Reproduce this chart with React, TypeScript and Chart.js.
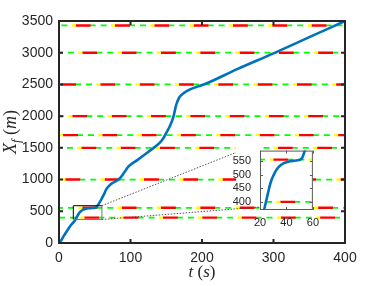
import React, { useEffect, useRef } from 'react';
import { Chart, registerables } from 'chart.js';

Chart.register(...registerables);

// ---------- data ----------
const TIME_S = [0, 3, 6, 10, 14, 18, 22, 25, 28, 31, 34, 38, 42, 46, 50, 52, 54, 57, 60, 63, 66, 70, 74, 78, 82, 86, 90, 94, 97, 100, 110, 120, 130, 140, 145, 150, 155, 160, 164, 168, 172, 178, 185, 195, 205, 250, 300, 350, 400];
const POSITION_M = [0, 40, 100, 170, 240, 300, 350, 410, 470, 505, 527, 542, 548, 551, 554, 562, 590, 645, 705, 770, 845, 900, 940, 965, 992, 1030, 1090, 1160, 1205, 1235, 1310, 1395, 1480, 1570, 1635, 1735, 1840, 1990, 2180, 2290, 2340, 2390, 2430, 2470, 2510, 2745, 2990, 3245, 3500];
const REF_LEVELS_M = [3430, 3000, 2500, 2000, 1700, 1500, 1000, 555, 400];
const X_TICKS = [0, 100, 200, 300, 400];
const Y_TICKS = [0, 500, 1000, 1500, 2000, 2500, 3000, 3500];
const INSET_X_TICKS = [20, 40, 60];
const INSET_Y_TICKS = [400, 450, 500, 550];
const ZOOM_T_RANGE = [20, 60];
const ZOOM_X_RANGE = [370, 588];

// ---------- styles ----------
const MAIN_DASH_PHASE = [26.6, 20, 2, 30, 0, 21, 37, 20, 18];
const INSET_DASH_PHASE = [0, 0, 0, 0, 0, 0, 0, 30, 23];
const DASH_PERIOD = 39.3;
const AXIS_COLOR = '#262626';
const SANS = '"Liberation Sans", Arial, sans-serif';
const SERIF = '"Liberation Serif", "Times New Roman", serif';
const INSET_CANVAS = { left: 225, top: 135, width: 100, height: 100 };
const INSET_AREA = { left: 260, top: 143, right: 317, bottom: 210 };

const mod = (v: number) => ((v % DASH_PERIOD) + DASH_PERIOD) % DASH_PERIOD;

function curveDataset() {
  return {
    data: TIME_S.map((t, i) => ({ x: t, y: POSITION_M[i] })),
    borderColor: '#0072BD',
    borderWidth: 2.6,
    pointRadius: 0,
    cubicInterpolationMode: 'monotone' as const,
    fill: false,
  };
}

function levelDatasets(phases: number[], xmin: number, xmax: number) {
  const out: any[] = [];
  REF_LEVELS_M.forEach((lv, i) => {
    const ph = phases[i];
    const data = [{ x: xmin, y: lv }, { x: xmax, y: lv }];
    out.push({ data, borderColor: '#ffff00', borderWidth: 2.4, borderDash: [4, DASH_PERIOD - 4], borderDashOffset: mod(ph), pointRadius: 0, borderCapStyle: 'butt' });
    out.push({ data, borderColor: '#ff0000', borderWidth: 2.4, borderDash: [15, DASH_PERIOD - 15], borderDashOffset: mod(ph - 4), pointRadius: 0, borderCapStyle: 'butt' });
    out.push({ data, borderColor: '#00ff00', borderWidth: 1.7, borderDash: [5, 5, 6, DASH_PERIOD - 16], borderDashOffset: mod(ph - 19), pointRadius: 0, borderCapStyle: 'butt' });
  });
  return out;
}

type Piece = { t: string; f: string; dy?: number };

function drawPieces(ctx: CanvasRenderingContext2D, pieces: Piece[], cx: number, baseline: number) {
  let total = 0;
  pieces.forEach((p) => { ctx.font = p.f; total += ctx.measureText(p.t).width; });
  let x = cx - total / 2;
  ctx.textBaseline = 'alphabetic';
  ctx.textAlign = 'left';
  pieces.forEach((p) => {
    ctx.font = p.f;
    ctx.fillText(p.t, x, baseline + (p.dy || 0));
    x += ctx.measureText(p.t).width;
  });
}

const mainDecor = {
  id: 'mainDecor',
  afterDatasetsDraw(chart: any) {
    const { ctx, chartArea: a, scales } = chart;
    const xs = scales.x, ys = scales.y;
    ctx.save();
    // zoom rectangle
    const rx1 = xs.getPixelForValue(ZOOM_T_RANGE[0]);
    const rx2 = xs.getPixelForValue(ZOOM_T_RANGE[1]);
    const ry1 = ys.getPixelForValue(ZOOM_X_RANGE[1]);
    const ry2 = ys.getPixelForValue(ZOOM_X_RANGE[0]);
    ctx.lineWidth = 1;
    ctx.strokeStyle = '#000';
    ctx.beginPath();
    ctx.moveTo(rx1, ry2); ctx.lineTo(rx1, ry1); ctx.lineTo(rx2, ry1);
    ctx.stroke();
    ctx.strokeStyle = '#777';
    ctx.beginPath();
    ctx.moveTo(rx2, ry1); ctx.lineTo(rx2, ry2); ctx.lineTo(rx1, ry2);
    ctx.stroke();
    // connectors
    ctx.setLineDash([1.5, 1.5]);
    ctx.strokeStyle = '#444';
    ctx.lineWidth = 0.9;
    ctx.beginPath();
    ctx.moveTo(rx2, ry1); ctx.lineTo(INSET_AREA.left, INSET_AREA.top);
    ctx.moveTo(rx2, ry2); ctx.lineTo(INSET_AREA.left, INSET_AREA.bottom - 3);
    ctx.stroke();
    ctx.setLineDash([]);
    // frame
    ctx.strokeStyle = AXIS_COLOR;
    ctx.lineWidth = 2;
    ctx.strokeRect(a.left, a.top, a.right - a.left, a.bottom - a.top);
    // inward ticks
    ctx.lineWidth = 2;
    ctx.beginPath();
    X_TICKS.forEach((v) => {
      const px = xs.getPixelForValue(v);
      ctx.moveTo(px, a.bottom); ctx.lineTo(px, a.bottom - 4);
      ctx.moveTo(px, a.top); ctx.lineTo(px, a.top + 4);
    });
    Y_TICKS.forEach((v) => {
      const py = ys.getPixelForValue(v);
      ctx.moveTo(a.left, py); ctx.lineTo(a.left + 4, py);
      ctx.moveTo(a.right, py); ctx.lineTo(a.right - 4, py);
    });
    ctx.stroke();
    // titles
    ctx.fillStyle = AXIS_COLOR;
    const it = `italic 17px ${SERIF}`;
    const up = `17px ${SERIF}`;
    drawPieces(ctx, [
      { t: 't', f: it }, { t: ' (', f: up }, { t: 's', f: it }, { t: ')', f: up },
    ], (a.left + a.right) / 2, 277);
    ctx.translate(16, (a.top + a.bottom) / 2);
    ctx.rotate(-Math.PI / 2);
    drawPieces(ctx, [
      { t: 'X', f: `italic 18px ${SERIF}` },
      { t: 'f', f: `italic 13px ${SERIF}`, dy: 4 },
      { t: ' (', f: `18px ${SERIF}` },
      { t: 'm', f: `italic 18px ${SERIF}` },
      { t: ')', f: `18px ${SERIF}` },
    ], 0, 0);
    ctx.restore();
  },
};

const insetDecor = {
  id: 'insetDecor',
  beforeDraw(chart: any) {
    const { ctx, chartArea: a } = chart;
    ctx.save();
    ctx.fillStyle = '#fff';
    ctx.fillRect(11, 1, a.left - 11, 68);
    ctx.fillRect(a.left, a.top, a.right - a.left, a.bottom - a.top);
    ctx.restore();
  },
  afterDatasetsDraw(chart: any) {
    const { ctx, chartArea: a, scales } = chart;
    const xs = scales.x, ys = scales.y;
    ctx.save();
    ctx.strokeStyle = '#5a5a5a';
    ctx.lineWidth = 1;
    ctx.strokeRect(a.left + 0.5, a.top + 0.5, a.right - a.left - 1, a.bottom - a.top - 1);
    ctx.beginPath();
    INSET_X_TICKS.forEach((v) => {
      const px = Math.round(xs.getPixelForValue(v)) + 0.5;
      ctx.moveTo(px, a.bottom); ctx.lineTo(px, a.bottom - 3);
      ctx.moveTo(px, a.top); ctx.lineTo(px, a.top + 3);
    });
    INSET_Y_TICKS.forEach((v) => {
      const py = Math.round(ys.getPixelForValue(v)) + 0.5;
      ctx.moveTo(a.left, py); ctx.lineTo(a.left + 3, py);
      ctx.moveTo(a.right, py); ctx.lineTo(a.right - 3, py);
    });
    ctx.stroke();
    ctx.restore();
  },
};

function axisTicks(values: number[], size: number, padding: number) {
  return {
    afterBuildTicks: (s: any) => { s.ticks = values.map((v) => ({ value: v })); },
    grid: { display: false, drawTicks: false },
    border: { display: false },
    ticks: {
      padding,
      color: AXIS_COLOR,
      font: { size, family: SANS },
      maxRotation: 0,
      autoSkip: false,
      callback: (v: any) => String(v),
    },
  };
}

function mainConfig(): any {
  return {
    type: 'line',
    data: { datasets: [curveDataset(), ...levelDatasets(MAIN_DASH_PHASE, 0, 400)] },
    options: {
      animation: false,
      responsive: false,
      devicePixelRatio: 1,
      events: [],
      layout: { padding: { left: 0, top: 21, right: 37, bottom: 0 } },
      plugins: { legend: { display: false }, tooltip: { enabled: false } },
      scales: {
        x: { type: 'linear', min: 0, max: 400, ...axisTicks(X_TICKS, 14, 7), afterFit: (s: any) => { s.height = 43; } },
        y: { type: 'linear', min: 0, max: 3500, ...axisTicks(Y_TICKS, 14, 6), afterFit: (s: any) => { s.width = 59; } },
      },
    },
    plugins: [mainDecor],
  };
}

function insetConfig(): any {
  const aLeft = INSET_AREA.left - INSET_CANVAS.left;
  const aTop = INSET_AREA.top - INSET_CANVAS.top;
  const aRight = INSET_AREA.right - INSET_CANVAS.left;
  const aBottom = INSET_AREA.bottom - INSET_CANVAS.top;
  return {
    type: 'line',
    data: { datasets: [curveDataset(), ...levelDatasets(INSET_DASH_PHASE, ZOOM_T_RANGE[0], ZOOM_T_RANGE[1])] },
    options: {
      animation: false,
      responsive: false,
      devicePixelRatio: 1,
      events: [],
      layout: { padding: { left: 0, top: aTop, right: INSET_CANVAS.width - aRight, bottom: 0 } },
      plugins: { legend: { display: false }, tooltip: { enabled: false } },
      scales: {
        x: { type: 'linear', min: ZOOM_T_RANGE[0], max: ZOOM_T_RANGE[1], ...axisTicks(INSET_X_TICKS, 11, 6), afterFit: (s: any) => { s.height = INSET_CANVAS.height - aBottom; } },
        y: { type: 'linear', min: ZOOM_X_RANGE[0], max: ZOOM_X_RANGE[1], ...axisTicks(INSET_Y_TICKS, 11, 9), afterFit: (s: any) => { s.width = aLeft; } },
      },
    },
    plugins: [insetDecor],
  };
}

export default function App() {
  const mainRef = useRef<HTMLCanvasElement>(null);
  const insetRef = useRef<HTMLCanvasElement>(null);
  useEffect(() => {
    const main = new Chart(mainRef.current as HTMLCanvasElement, mainConfig());
    const inset = new Chart(insetRef.current as HTMLCanvasElement, insetConfig());
    return () => { main.destroy(); inset.destroy(); };
  }, []);
  return (
    <div style={{ position: 'fixed', left: 0, top: 0, width: 382, height: 286, background: '#fff' }}>
      <canvas ref={mainRef} width={382} height={286} style={{ position: 'absolute', left: 0, top: 0, width: 382, height: 286 }} />
      <canvas
        ref={insetRef}
        width={INSET_CANVAS.width}
        height={INSET_CANVAS.height}
        style={{ position: 'absolute', left: INSET_CANVAS.left, top: INSET_CANVAS.top, width: INSET_CANVAS.width, height: INSET_CANVAS.height }}
      />
    </div>
  );
}
